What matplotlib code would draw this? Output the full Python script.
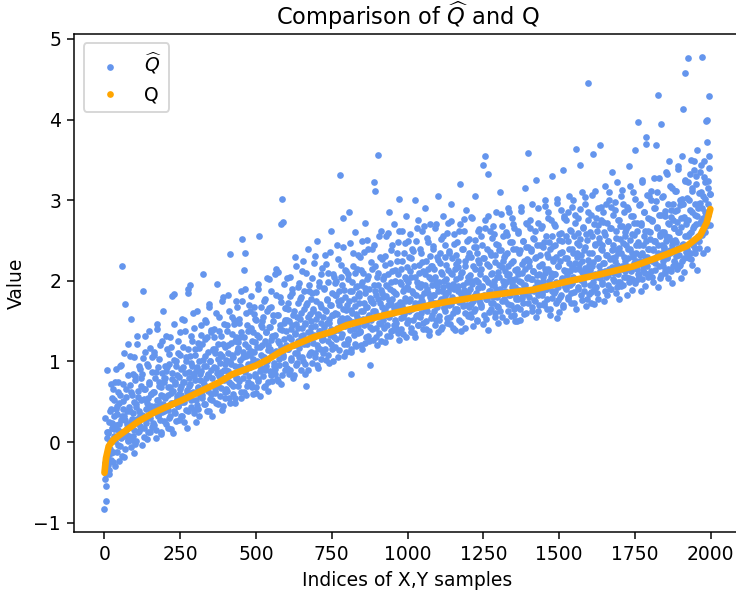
import numpy as np
import matplotlib
matplotlib.use("Agg")
import matplotlib.pyplot as plt
from matplotlib.lines import Line2D

# True quantile curve Q, sampled at selected sample indices
q_index = [0, 5, 14, 30, 47, 80, 113, 160, 200, 250, 300, 377, 421, 500, 542,
           580, 619, 689, 750, 799, 909, 1000, 1129, 1250, 1371, 1415, 1525,
           1635, 1745, 1855, 1921, 1965, 1987, 1999]
q_values = [-0.38, -0.20, -0.05, 0.03, 0.08, 0.17, 0.26, 0.36, 0.43, 0.51, 0.60,
            0.74, 0.84, 0.95, 1.03, 1.12, 1.19, 1.30, 1.37, 1.45, 1.56, 1.64,
            1.74, 1.81, 1.87, 1.89, 1.99, 2.08, 2.18, 2.33, 2.43, 2.56, 2.72, 2.89]

# Estimated quantiles Q-hat at the even sample indices (0, 2, 4, ...)
q_hat_even = [
    -0.83, -0.46, -0.73, -0.54, 0.05, -0.28, 0.12, -0.35, 0.25, -0.08, 0.41, -0.22, 0.18, 0.55, -0.12, 0.33, 0.08, -0.30, 0.74, 0.21,
    0.35, -0.12, 0.62, 0.15, 0.48, -0.05, 0.94, 0.27, 0.05, 2.18, 0.41, 0.72, -0.18, 0.33, 1.71, 0.10, 0.56, 0.22, 1.22, 0.02,
    0.44, 0.08, 0.71, 1.53, 0.25, 0.03, 0.58, 0.36, 1.05, 0.15, 0.82, -0.02, 0.47, 0.29, 1.32, 0.12, 0.63, 0.38, 0.91, 0.20,
    0.52, 0.18, 0.85, 1.87, 0.33, 0.06, 0.66, 1.12, 0.41, 0.24, 0.97, 0.55, 0.12, 0.74, 1.38, 0.30, 0.60, 0.45, 0.19, 1.05,
    0.62, 0.21, 1.08, 0.45, 0.80, 0.15, 1.46, 0.52, 0.34, 0.93, 0.70, 0.28, 1.21, 0.58, 0.10, 0.86, 0.47, 1.63, 0.39, 0.75,
    0.55, 0.88, 0.23, 1.15, 0.68, 0.40, 0.97, 0.30, 1.30, 0.61, 0.16, 1.81, 0.78, 0.49, 1.02, 1.84, 0.36, 0.72, 0.95, 0.57,
    0.83, 0.45, 1.10, 0.27, 0.66, 1.37, 0.58, 0.91, 0.33, 1.18, 0.74, 0.50, 1.52, 0.86, 0.40, 1.05, 0.62, 1.85, 1.90, 0.79,
    0.70, 1.95, 0.98, 0.44, 1.25, 0.61, 0.85, 0.36, 1.41, 0.77, 1.08, 0.52, 0.93, 1.62, 0.68, 0.41, 1.17, 0.84, 0.57, 1.33,
    0.88, 0.55, 2.09, 1.02, 0.72, 1.28, 0.47, 0.95, 1.49, 0.66, 1.12, 0.83, 0.39, 1.71, 1.00, 0.60, 1.36, 0.79, 0.52, 1.15,
    0.93, 1.40, 0.64, 1.10, 0.48, 1.96, 0.86, 1.22, 0.70, 1.55, 0.98, 0.57, 1.31, 0.81, 1.07, 0.45, 1.80, 0.90, 0.62, 1.18,
    1.02, 0.66, 1.45, 0.88, 1.20, 0.55, 1.63, 2.33, 0.97, 0.72, 1.34, 1.08, 0.60, 1.52, 0.85, 1.26, 0.49, 1.75, 1.12, 0.79,
    1.15, 0.70, 1.48, 0.95, 1.30, 0.62, 1.88, 2.52, 1.05, 0.80, 2.14, 2.35, 1.22, 0.58, 1.60, 0.92, 1.38, 0.74, 1.10, 1.70,
    1.08, 0.72, 1.42, 0.98, 1.25, 0.60, 1.67, 1.12, 0.85, 1.53, 0.68, 1.33, 1.00, 1.90, 0.78, 2.55, 1.18, 0.57, 1.45, 0.92,
    1.20, 0.82, 1.55, 1.05, 1.78, 0.70, 1.36, 0.95, 1.62, 1.14, 0.64, 1.43, 2.02, 0.88, 1.27, 1.68, 0.76, 1.10, 1.50, 0.98,
    1.32, 0.85, 2.08, 2.15, 1.12, 0.78, 1.58, 1.25, 0.96, 1.80, 1.40, 0.72, 2.71, 3.01, 1.05, 2.73, 1.48, 0.90, 1.66, 1.20,
    1.38, 0.92, 1.72, 1.15, 1.50, 0.84, 2.05, 1.28, 1.02, 1.85, 1.45, 0.80, 1.62, 1.20, 2.30, 1.34, 0.96, 1.55, 1.10, 1.92,
    1.42, 1.05, 1.78, 1.25, 0.90, 1.60, 2.12, 1.33, 1.00, 1.88, 1.48, 0.85, 0.69, 1.70, 1.22, 2.40, 1.55, 1.08, 1.95, 1.36,
    1.50, 1.12, 1.85, 0.98, 1.62, 1.30, 2.22, 1.44, 1.05, 1.75, 2.50, 1.20, 1.58, 0.92, 1.98, 1.38, 1.15, 1.68, 2.08, 1.27,
    1.55, 1.10, 1.90, 1.35, 2.32, 1.62, 1.02, 1.78, 1.25, 2.10, 1.48, 0.98, 1.70, 2.62, 1.40, 1.15, 1.85, 1.58, 2.05, 1.30,
    1.60, 1.18, 2.00, 1.42, 2.45, 1.75, 1.05, 1.88, 3.31, 1.52, 2.20, 1.30, 1.95, 1.65, 2.78, 1.22, 1.80, 1.48, 2.12, 1.12,
    1.70, 1.28, 2.08, 1.52, 2.85, 1.88, 1.15, 0.85, 1.98, 1.60, 2.35, 1.40, 1.78, 2.60, 1.22, 1.92, 1.55, 2.15, 1.35, 1.82,
    1.72, 2.30, 1.38, 1.95, 1.20, 2.50, 1.62, 2.10, 1.45, 1.85, 2.72, 1.30, 1.68, 2.02, 1.55, 2.40, 1.25, 1.90, 0.96, 1.78,
    1.75, 1.40, 2.15, 1.62, 2.45, 3.22, 3.12, 1.88, 1.30, 2.05, 1.58, 3.56, 1.95, 1.48, 2.30, 1.72, 1.25, 2.62, 1.85, 1.52,
    1.80, 1.42, 2.20, 1.65, 2.55, 1.95, 1.32, 2.08, 1.70, 2.85, 1.55, 1.90, 2.38, 1.38, 1.78, 2.12, 1.60, 2.70, 1.45, 2.00,
    1.85, 1.48, 2.25, 1.70, 2.48, 1.35, 3.02, 1.98, 1.62, 2.15, 1.40, 2.62, 1.88, 1.55, 2.35, 1.75, 2.05, 1.30, 2.80, 1.92,
    1.90, 1.52, 2.30, 1.75, 2.58, 1.42, 2.05, 1.65, 2.40, 1.85, 1.35, 2.18, 3.00, 1.72, 2.50, 1.58, 1.98, 2.75, 1.45, 2.10,
    1.92, 1.55, 2.35, 1.80, 2.62, 1.40, 2.12, 1.70, 2.90, 1.95, 1.50, 2.25, 1.62, 2.48, 1.85, 1.38, 2.05, 2.70, 1.75, 2.18,
    1.95, 1.58, 2.40, 1.82, 2.15, 1.45, 2.65, 1.98, 1.68, 2.30, 1.88, 3.05, 1.52, 2.22, 1.75, 2.52, 1.40, 2.08, 1.92, 2.80,
    2.00, 1.62, 2.45, 1.85, 2.20, 1.48, 2.72, 1.95, 1.70, 2.35, 1.55, 2.10, 2.95, 1.80, 2.28, 1.42, 2.58, 1.90, 2.15, 1.65,
    2.02, 1.65, 2.48, 1.88, 2.25, 1.52, 2.70, 3.20, 1.38, 2.10, 1.75, 2.40, 1.95, 2.62, 1.60, 2.18, 1.85, 2.88, 1.70, 2.30,
    2.05, 1.68, 2.52, 1.90, 2.30, 1.55, 2.78, 2.00, 1.75, 2.42, 1.62, 2.15, 3.05, 1.85, 2.35, 1.50, 2.62, 1.98, 2.22, 1.72,
    2.08, 1.70, 2.55, 1.92, 3.44, 2.28, 1.58, 2.75, 3.55, 2.02, 1.78, 2.40, 3.33, 1.39, 2.18, 1.88, 2.62, 1.65, 2.32, 1.95,
    2.10, 1.72, 2.58, 1.95, 2.32, 1.60, 2.85, 2.05, 1.80, 2.45, 1.68, 2.20, 3.10, 1.90, 2.38, 1.55, 2.68, 2.00, 2.25, 1.78,
    2.12, 1.75, 2.60, 1.98, 2.35, 1.62, 2.90, 2.08, 1.82, 2.48, 1.70, 2.22, 2.78, 1.92, 2.40, 1.58, 2.65, 2.02, 1.50, 1.80,
    1.50, 2.15, 1.78, 2.62, 2.00, 2.38, 1.65, 2.92, 2.10, 1.85, 2.50, 1.72, 2.25, 3.15, 1.95, 2.42, 1.60, 2.70, 3.58, 2.05,
    2.18, 1.80, 2.65, 2.02, 2.40, 1.68, 2.95, 2.12, 1.88, 2.52, 1.75, 2.28, 3.25, 1.98, 2.45, 1.62, 2.72, 2.08, 2.32, 1.85,
    2.20, 1.82, 2.68, 2.05, 2.42, 1.70, 3.00, 2.15, 1.90, 2.55, 1.78, 2.30, 2.85, 2.00, 2.48, 1.65, 2.75, 2.10, 3.30, 1.88,
    2.25, 1.85, 2.70, 2.08, 2.45, 1.72, 1.54, 3.02, 2.18, 1.92, 2.58, 1.80, 2.35, 2.88, 2.02, 2.50, 3.38, 1.70, 2.78, 2.12,
    2.28, 1.90, 2.75, 2.12, 2.50, 1.78, 3.05, 2.22, 1.95, 2.62, 1.85, 2.40, 2.92, 2.05, 2.55, 1.72, 2.82, 2.15, 3.64, 2.35,
    2.30, 1.92, 2.78, 2.15, 2.52, 3.44, 1.82, 3.10, 2.25, 2.00, 2.65, 1.88, 2.42, 2.95, 2.10, 2.58, 1.78, 2.85, 4.45, 2.20,
    2.35, 1.95, 2.82, 1.73, 2.55, 2.18, 3.57, 2.70, 1.90, 2.45, 3.12, 2.05, 2.62, 1.85, 2.90, 2.28, 2.48, 3.68, 2.12, 2.75,
    2.38, 1.98, 2.85, 2.22, 2.60, 1.88, 3.18, 2.32, 2.05, 2.72, 1.95, 2.50, 3.00, 2.15, 2.65, 1.90, 2.92, 2.28, 3.35, 2.45,
    2.40, 2.00, 2.88, 2.25, 2.62, 1.92, 3.22, 2.35, 2.08, 2.75, 1.98, 2.52, 3.05, 2.18, 2.68, 1.95, 2.95, 2.30, 2.55, 2.12,
    2.45, 2.05, 2.92, 2.28, 2.68, 1.98, 3.43, 2.40, 2.12, 2.80, 2.02, 2.58, 3.10, 2.22, 2.72, 2.00, 3.62, 2.35, 2.62, 2.15,
    2.48, 3.97, 2.08, 2.95, 2.32, 2.72, 2.02, 3.25, 2.45, 2.18, 2.85, 2.10, 2.62, 3.70, 3.78, 2.30, 2.78, 2.05, 3.05, 2.40,
    2.52, 2.12, 3.00, 2.05, 2.75, 2.38, 3.28, 2.50, 2.22, 2.90, 3.69, 2.65, 3.10, 2.35, 4.31, 2.82, 2.04, 2.58, 3.95, 2.45,
    2.60, 2.18, 3.05, 2.42, 2.80, 2.10, 3.35, 2.55, 2.28, 2.95, 2.15, 2.70, 3.48, 2.38, 2.88, 2.12, 3.15, 2.50, 2.75, 2.25,
    2.65, 2.22, 3.12, 2.48, 2.88, 2.15, 3.42, 2.60, 2.32, 3.00, 2.20, 2.78, 3.55, 2.45, 4.13, 2.95, 2.28, 3.25, 4.58, 2.70,
    2.75, 2.30, 3.22, 4.76, 2.58, 3.00, 2.35, 3.50, 2.27, 2.85, 3.15, 2.45, 3.38, 2.68, 2.95, 2.40, 3.30, 2.80, 3.62, 2.55,
    2.90, 2.50, 3.35, 2.72, 3.10, 2.62, 4.78, 3.05, 2.78, 3.48, 2.85, 3.22, 2.68, 3.98, 4.00, 3.15, 2.95, 3.40, 4.29, 3.08,
]

# Estimated quantiles Q-hat at the odd sample indices (1, 3, 5, ...)
q_hat_odd = [
    -0.26, 0.30, -0.40, 0.13, 0.89, -0.16, 0.11, -0.39, 0.38, 0.01, 0.72, -0.13, 0.24, 0.66, -0.25, 0.16, 0.52, 0.02, 0.91, 0.41,
    0.45, -0.03, 0.74, 0.23, -0.24, 0.58, 0.13, 0.96, 0.33, -0.17, 0.51, 0.08, 1.11, 0.28, -0.09, 0.66, 0.18, 0.39, 0.03, 0.83,
    0.19, 1.07, 0.39, -0.06, 0.62, 0.29, 0.85, 0.08, 0.50, -0.13, 0.77, 0.44, 0.02, 1.22, 0.24, 0.56, 0.14, 0.94, 0.34, 0.69,
    0.79, 0.34, -0.03, 1.04, 0.54, 0.18, 0.66, 1.32, 0.29, 0.49, 0.04, 0.95, 0.44, 0.72, 1.17, 0.12, 0.60, 0.39, 0.87, 0.24,
    0.20, 0.62, 1.12, 0.42, 0.87, 0.05, 1.40, 0.52, 0.32, 0.74, 1.03, 0.47, 0.12, 0.68, 0.37, 1.25, 0.57, 0.80, 0.26, 0.95,
    0.80, 1.31, 0.43, 0.93, 0.58, 0.18, 1.09, 0.68, 0.32, 1.18, 0.48, 0.86, 0.11, 0.63, 0.38, 1.46, 0.74, 0.26, 1.01, 0.53,
    1.25, 0.45, 0.81, 0.60, 1.08, 0.33, 0.70, 1.53, 0.50, 0.93, 0.25, 0.75, 1.38, 0.55, 1.00, 0.18, 0.65, 1.16, 0.39, 0.87,
    1.07, 0.72, 1.32, 0.52, 0.94, 0.62, 1.60, 0.40, 0.82, 1.15, 0.25, 0.88, 0.46, 1.23, 0.67, 1.00, 0.32, 0.77, 1.45, 0.57,
    0.59, 1.22, 0.74, 0.95, 0.47, 1.52, 1.07, 0.79, 1.30, 0.39, 0.84, 0.64, 1.67, 1.01, 0.53, 0.89, 1.39, 0.32, 0.69, 1.14,
    1.30, 0.61, 1.15, 0.92, 1.60, 0.72, 1.03, 0.47, 0.82, 1.38, 1.09, 0.67, 0.87, 1.75, 0.40, 1.22, 0.77, 1.47, 0.97, 0.55,
    0.90, 1.38, 0.63, 1.11, 1.83, 0.75, 1.00, 0.48, 1.23, 0.85, 1.55, 0.69, 1.05, 1.46, 0.55, 0.95, 1.30, 0.80, 1.68, 1.17,
    1.24, 0.76, 1.53, 1.02, 0.55, 1.37, 0.92, 1.75, 1.12, 0.62, 1.30, 0.87, 1.90, 1.07, 0.70, 1.45, 0.97, 1.18, 0.82, 1.62,
    0.93, 1.81, 1.13, 0.68, 1.36, 1.03, 1.59, 0.82, 1.24, 0.61, 1.51, 1.18, 0.76, 1.96, 0.98, 1.30, 0.88, 1.68, 1.08, 1.43,
    1.50, 1.05, 0.68, 1.75, 1.25, 0.89, 1.37, 2.03, 1.00, 1.20, 0.75, 1.66, 1.15, 1.43, 1.88, 0.83, 1.31, 1.10, 1.58, 0.95,
    0.91, 1.33, 1.83, 1.13, 1.58, 0.76, 2.11, 1.23, 1.03, 1.45, 1.74, 1.18, 0.83, 1.39, 1.08, 1.96, 1.28, 1.51, 0.97, 1.66,
    1.52, 2.03, 1.15, 1.65, 1.30, 0.90, 1.81, 1.40, 1.04, 1.90, 1.20, 1.58, 0.83, 1.35, 1.10, 2.18, 1.46, 0.98, 1.73, 1.25,
    1.97, 1.17, 1.53, 1.32, 1.80, 1.05, 1.42, 2.25, 1.22, 1.65, 0.97, 1.47, 2.10, 1.27, 1.72, 0.90, 1.37, 1.88, 1.11, 1.59,
    1.78, 1.43, 2.03, 1.23, 1.65, 1.33, 2.31, 1.11, 1.53, 1.86, 0.96, 1.59, 1.17, 1.94, 1.38, 1.71, 1.03, 1.48, 2.16, 1.28,
    1.28, 1.91, 1.43, 1.64, 1.16, 2.21, 1.76, 1.48, 1.99, 1.08, 1.53, 1.33, 2.36, 1.70, 1.22, 1.58, 2.08, 1.01, 1.38, 1.83,
    1.97, 1.28, 1.82, 1.59, 2.27, 1.39, 1.70, 1.14, 1.49, 2.05, 1.76, 1.34, 1.54, 2.42, 1.07, 1.89, 1.44, 2.14, 1.64, 1.22,
    1.54, 2.02, 1.27, 1.75, 2.47, 1.39, 1.64, 1.12, 1.87, 1.49, 2.19, 1.33, 1.69, 2.10, 1.19, 1.59, 1.94, 1.44, 2.32, 1.81,
    1.85, 1.37, 2.14, 1.63, 1.16, 1.98, 1.53, 2.36, 1.73, 1.23, 1.91, 1.48, 2.51, 1.68, 1.31, 2.06, 1.58, 1.79, 1.43, 2.23,
    1.52, 2.40, 1.72, 1.27, 1.95, 1.62, 2.18, 1.41, 1.83, 1.20, 2.10, 1.77, 1.35, 2.55, 1.57, 1.89, 1.47, 2.27, 1.67, 2.02,
    2.06, 1.61, 1.24, 2.31, 1.81, 1.45, 1.93, 2.59, 1.56, 1.76, 1.31, 2.22, 1.71, 1.99, 2.44, 1.39, 1.87, 1.66, 2.14, 1.51,
    1.42, 1.84, 2.34, 1.64, 2.09, 1.27, 2.62, 1.74, 1.54, 1.96, 2.25, 1.69, 1.34, 1.90, 1.59, 2.47, 1.79, 2.02, 1.48, 2.17,
    1.99, 2.50, 1.62, 2.12, 1.77, 1.37, 2.28, 1.87, 1.51, 2.37, 1.67, 2.05, 1.30, 1.82, 1.57, 2.65, 1.93, 1.45, 2.20, 1.72,
    2.40, 1.60, 1.96, 1.75, 2.23, 1.48, 1.85, 2.68, 1.65, 2.08, 1.40, 1.90, 2.53, 1.70, 2.15, 1.33, 1.80, 2.31, 1.54, 2.02,
    2.18, 1.83, 2.43, 1.63, 2.05, 1.73, 2.71, 1.51, 1.93, 2.26, 1.36, 1.99, 1.57, 2.34, 1.78, 2.11, 1.43, 1.88, 2.56, 1.68,
    1.66, 2.29, 1.81, 2.02, 1.54, 2.59, 2.14, 1.86, 2.37, 1.46, 1.91, 1.71, 2.74, 2.08, 1.60, 1.96, 2.46, 1.39, 1.76, 2.21,
    2.32, 1.63, 2.17, 1.94, 2.62, 1.74, 2.05, 1.49, 1.84, 2.40, 2.11, 1.69, 1.89, 2.77, 1.42, 2.24, 1.79, 2.49, 1.99, 1.57,
    1.86, 2.34, 1.59, 2.07, 2.79, 1.71, 1.96, 1.44, 2.19, 1.81, 2.51, 1.65, 2.01, 2.42, 1.51, 1.91, 2.26, 1.76, 2.64, 2.13,
    2.15, 1.67, 2.44, 1.93, 1.46, 2.28, 1.83, 2.66, 2.03, 1.53, 2.21, 1.78, 2.81, 1.98, 1.61, 2.36, 1.88, 2.09, 1.73, 2.53,
    1.80, 2.68, 2.00, 1.55, 2.23, 1.90, 2.46, 1.69, 2.11, 1.48, 2.38, 2.05, 1.63, 2.83, 1.85, 2.17, 1.75, 2.55, 1.95, 2.30,
    2.32, 1.87, 1.50, 2.57, 2.07, 1.71, 2.19, 2.85, 1.82, 2.02, 1.57, 2.48, 1.97, 2.25, 2.70, 1.65, 2.13, 1.92, 2.40, 1.77,
    1.67, 2.09, 2.59, 1.89, 2.34, 1.52, 2.87, 1.99, 1.79, 2.21, 2.50, 1.94, 1.59, 2.15, 1.84, 2.72, 2.04, 2.27, 1.73, 2.42,
    2.24, 2.75, 1.87, 2.37, 2.02, 1.62, 2.53, 2.12, 1.76, 2.62, 1.92, 2.30, 1.55, 2.07, 1.82, 2.90, 2.18, 1.70, 2.45, 1.97,
    2.65, 1.85, 2.21, 2.00, 2.48, 1.73, 2.10, 2.93, 1.90, 2.33, 1.65, 2.15, 2.78, 1.95, 2.40, 1.58, 2.05, 2.56, 1.79, 2.27,
    2.43, 2.08, 2.68, 1.88, 2.30, 1.98, 2.96, 1.76, 2.18, 2.51, 1.61, 2.24, 1.82, 2.59, 2.03, 2.36, 1.68, 2.13, 2.81, 1.93,
    1.92, 2.55, 2.07, 2.28, 1.80, 2.85, 2.40, 2.12, 2.63, 1.72, 2.17, 1.97, 3.00, 2.34, 1.86, 2.22, 2.72, 1.65, 2.02, 2.47,
    2.59, 1.90, 2.44, 2.21, 2.89, 2.01, 2.32, 1.76, 2.11, 2.67, 2.38, 1.96, 2.16, 3.04, 1.69, 2.51, 2.06, 2.76, 2.26, 1.84,
    2.13, 2.61, 1.86, 2.34, 3.06, 1.98, 2.23, 1.71, 2.46, 2.08, 2.78, 1.92, 2.28, 2.69, 1.78, 2.18, 2.53, 2.03, 2.91, 2.40,
    2.44, 1.96, 2.73, 2.22, 1.75, 2.57, 2.12, 2.95, 2.32, 1.82, 2.50, 2.07, 3.10, 2.27, 1.90, 2.65, 2.17, 2.38, 2.02, 2.82,
    2.10, 2.98, 2.30, 1.85, 2.53, 2.20, 2.76, 1.99, 2.41, 1.78, 2.68, 2.35, 1.93, 3.13, 2.15, 2.47, 2.05, 2.85, 2.25, 2.60,
    2.64, 2.19, 1.82, 2.89, 2.39, 2.03, 2.51, 3.17, 2.14, 2.34, 1.89, 2.80, 2.29, 2.57, 3.02, 1.97, 2.45, 2.24, 2.72, 2.09,
    2.02, 2.44, 2.94, 2.24, 2.69, 1.87, 3.22, 2.34, 2.14, 2.56, 2.85, 2.29, 1.94, 2.50, 2.19, 3.07, 2.39, 2.62, 2.08, 2.77,
    2.61, 3.12, 2.24, 2.74, 2.39, 1.99, 2.90, 2.49, 2.13, 2.99, 2.29, 2.67, 1.92, 2.44, 2.19, 3.27, 2.55, 2.07, 2.82, 2.34,
    3.04, 2.24, 2.60, 2.39, 2.87, 2.12, 2.49, 3.32, 2.29, 2.72, 2.04, 2.54, 3.17, 2.34, 2.79, 1.97, 2.44, 2.95, 2.18, 2.66,
    2.86, 2.51, 3.11, 2.31, 2.73, 2.41, 3.39, 2.19, 2.61, 2.94, 2.04, 2.67, 2.25, 3.02, 2.46, 2.79, 2.11, 2.56, 3.24, 2.36,
    2.40, 3.03, 2.55, 2.76, 2.28, 3.33, 2.88, 2.60, 3.11, 2.20, 2.65, 2.45, 3.48, 2.82, 2.34, 2.70, 3.20, 2.13, 2.50, 2.95,
    3.09, 2.41, 2.96, 2.74, 3.44, 2.57, 2.90, 2.35, 2.72, 3.29, 3.02, 2.61, 2.83, 3.72, 2.40, 3.24, 2.82, 3.55, 3.08, 2.69,
]

title = r"Comparison of $\widehat{Q}$ and Q"
label_hat = r"$\widehat{Q}$"
label_q = "Q"
xlabel = "Indices of X,Y samples"
ylabel = "Value"

blue = "#6495ED"
orange = "#FFA500"

q_hat_index = np.concatenate([np.arange(len(q_hat_even)) * 2,
                              np.arange(len(q_hat_odd)) * 2 + 1])
q_hat = np.concatenate([q_hat_even, q_hat_odd])
order = np.argsort(q_hat_index)

DPI = 135
fig = plt.figure(figsize=(736 / DPI, 596 / DPI), dpi=DPI)
ax = fig.add_axes([74.2 / 736, 1 - 531.7 / 596, 666.4 / 736, (531.7 - 34) / 596])

dot_size = 12.8
sc = ax.scatter(q_hat_index[order], q_hat[order], s=dot_size, color=blue,
                linewidths=0, label=label_hat)
ax.plot(q_index, q_values, color=orange, lw=3.57, solid_capstyle="round",
        solid_joinstyle="round", zorder=3)

q_handle = Line2D([], [], marker="o", linestyle="", color=orange,
                  markersize=np.sqrt(dot_size), markeredgewidth=0)
ax.legend(handles=[sc, q_handle], labels=[label_hat, label_q], loc="upper left")

ax.set_title(title, pad=4.8)
ax.set_xlabel(xlabel)
ax.set_ylabel(ylabel)

fig.savefig("out.png", dpi=DPI)
